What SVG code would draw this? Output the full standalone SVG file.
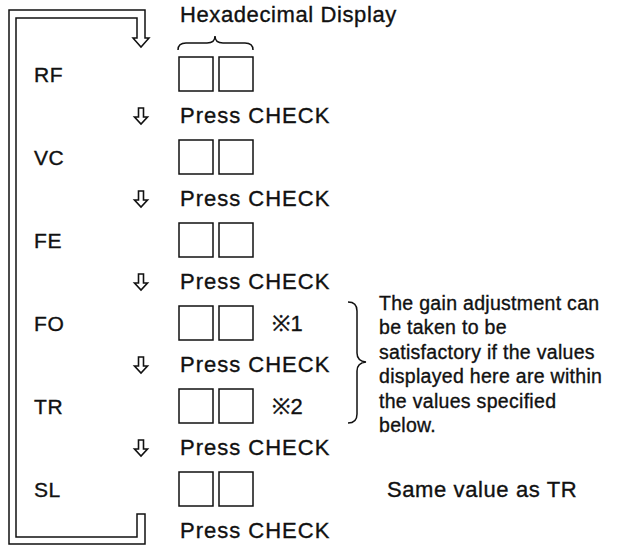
<svg xmlns="http://www.w3.org/2000/svg" width="617" height="545" viewBox="0 0 617 545">
<style>
text{font-family:"Liberation Sans",Arial,sans-serif;fill:#111;stroke:#111;stroke-width:0.35}
.lbl{font-size:21px;letter-spacing:0.6px}
.big{font-size:22px;letter-spacing:0.6px}
.prs{font-size:22px;letter-spacing:1px}
.note{font-size:19.5px;letter-spacing:0.3px}
.box{fill:#fff;stroke:#111;stroke-width:1.5}
.ln{fill:none;stroke:#111;stroke-width:1.5}
</style>
<defs>
<path id="arr" d="M-2.5,0 H2.5 V9 H6.5 L0,16 L-6.5,9 H-2.5 Z" fill="#fff" stroke="#111" stroke-width="1.6"/>
<g id="boxes"><rect class="box" x="179" y="0" width="34" height="34"/><rect class="box" x="219" y="0" width="34" height="34"/></g>
</defs>
<g id="connectors">
<path class="ln" d="M145,38 V10 H9 V544 H145 V514 H137 V537 H16 V18 H137 V38 H133 L141,47 L149,38 Z"/>
<use href="#arr" x="141" y="108"/>
<use href="#arr" x="141" y="191"/>
<use href="#arr" x="141" y="274"/>
<use href="#arr" x="141" y="357"/>
<use href="#arr" x="141" y="440"/>
</g>
<g id="header">
<text class="big" x="180" y="22">Hexadecimal Display</text>
<path class="ln" d="M178,50 Q178,43 186,43 H207 Q215,43 215,36 Q215,43 223,43 H245 Q253,43 253,50"/>
</g>
<g id="node-RF"><text class="lbl" x="34" y="82">RF</text><use href="#boxes" y="57"/></g>
<g id="press-1"><text class="prs" x="180" y="123">Press CHECK</text></g>
<g id="node-VC"><text class="lbl" x="34" y="165">VC</text><use href="#boxes" y="140"/></g>
<g id="press-2"><text class="prs" x="180" y="206">Press CHECK</text></g>
<g id="node-FE"><text class="lbl" x="34" y="248">FE</text><use href="#boxes" y="223"/></g>
<g id="press-3"><text class="prs" x="180" y="289">Press CHECK</text></g>
<g id="node-FO"><text class="lbl" x="34" y="331">FO</text><use href="#boxes" y="306"/><text class="big" x="272" y="331">※1</text></g>
<g id="press-4"><text class="prs" x="180" y="372">Press CHECK</text></g>
<g id="node-TR"><text class="lbl" x="34" y="414">TR</text><use href="#boxes" y="389"/><text class="big" x="272" y="414">※2</text></g>
<g id="press-5"><text class="prs" x="180" y="455">Press CHECK</text></g>
<g id="node-SL"><text class="lbl" x="34" y="497">SL</text><use href="#boxes" y="472"/><text class="big" x="387" y="497">Same value as TR</text></g>
<g id="press-6"><text class="prs" x="180" y="538">Press CHECK</text></g>
<g id="note">
<path class="ln" d="M348,302 Q357,302 357,311 V353 Q357,361 366,362 Q357,363 357,371 V414 Q357,423 348,423"/>
<text class="note" x="379" y="310">The gain adjustment can</text>
<text class="note" x="379" y="334">be taken to be</text>
<text class="note" x="379" y="359">satisfactory if the values</text>
<text class="note" x="379" y="383">displayed here are within</text>
<text class="note" x="379" y="408">the values specified</text>
<text class="note" x="379" y="432">below.</text>
</g>
</svg>
